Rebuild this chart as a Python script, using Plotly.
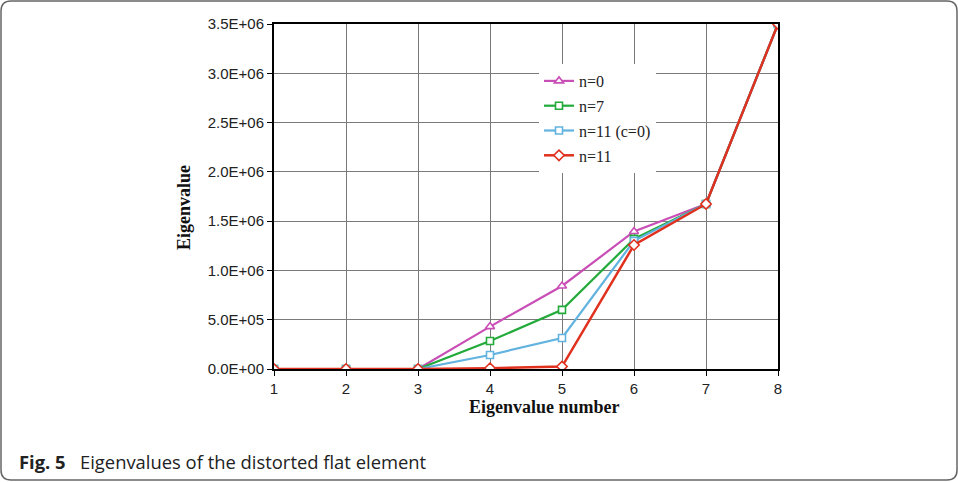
import plotly.graph_objects as go

x_vals = [1, 2, 3, 4, 5, 6, 7, 8]
n0 = [0, 0, 0, 0.43e6, 0.842e6, 1.395e6, 1.674e6, 3.5e6]
n7 = [0, 0, 0, 0.284e6, 0.60e6, 1.32e6, 1.674e6, 3.5e6]
n11c0 = [0, 0, 0, 0.142e6, 0.315e6, 1.30e6, 1.674e6, 3.5e6]
n11 = [0, 0, 0, 0.008e6, 0.025e6, 1.258e6, 1.674e6, 3.5e6]
names = ["n=0", "n=7", "n=11 (c=0)", "n=11"]
y_ticks = [0, 0.5e6, 1.0e6, 1.5e6, 2.0e6, 2.5e6, 3.0e6, 3.5e6]
y_tick_text = ["0.0E+00", "5.0E+05", "1.0E+06", "1.5E+06", "2.0E+06", "2.5E+06", "3.0E+06", "3.5E+06"]

colors = ["#C94FB6", "#22AA3A", "#62B3DF", "#E0301E"]
symbols = ["triangle-up", "square", "square", "diamond"]
sizes = [8, 7, 7, 8]
series = [n0, n7, n11c0, n11]

W, H = 958, 482
L, R, T, B = 274, 778, 24, 369
pw, ph = R - L, B - T

def px(xp):
    return (xp - L) / pw

def py(yp):
    return (B - yp) / ph

fig = go.Figure()
for i, (s, nm) in enumerate(zip(series, names)):
    fig.add_trace(go.Scatter(
        x=x_vals, y=s, name=nm, mode="lines+markers",
        legendgroup=nm,
        line=dict(color=colors[i], width=2.5 if i == 3 else 2.2),
        marker=dict(symbol=symbols[i], size=sizes[i], color="white",
                    line=dict(color=colors[i], width=1.6)),
    ))

fig.update_layout(
    width=W, height=H,
    margin=dict(l=L, r=W - R, t=T, b=H - B),
    paper_bgcolor="white", plot_bgcolor="white",
    showlegend=True,
    legend=dict(x=px(539), y=py(64), xanchor="left", yanchor="top",
                bgcolor="white", borderwidth=0,
                font=dict(family="Liberation Serif", size=16, color="#222"),
                tracegroupgap=1, itemwidth=30),
    font=dict(family="Liberation Sans", size=15, color="#222"),
)
fig.update_xaxes(
    range=[1, 8], tickvals=x_vals, ticktext=[str(v) for v in x_vals],
    showgrid=True, gridcolor="#7a7a7a", gridwidth=1,
    showline=True, linecolor="black", linewidth=2, mirror=True,
    ticks="outside", ticklen=5, tickcolor="black", zeroline=False,
    tickfont=dict(family="Liberation Sans", size=15, color="#222"),
)
fig.update_yaxes(
    range=[0, 3.5e6], tickvals=y_ticks, ticktext=y_tick_text,
    showgrid=True, gridcolor="#7a7a7a", gridwidth=1,
    showline=True, linecolor="black", linewidth=2, mirror=True,
    ticks="outside", ticklen=5, tickcolor="black", zeroline=False,
    tickfont=dict(family="Liberation Sans", size=15, color="#222"),
)

annotations = [
    dict(text="<b>Eigenvalue number</b>", x=px(544), y=py(407), xref="paper", yref="paper",
         showarrow=False, xanchor="center", yanchor="middle",
         font=dict(family="Liberation Serif", size=18, color="#111")),
    dict(text="<b>Eigenvalue</b>", x=px(184), y=py(208), xref="paper", yref="paper",
         showarrow=False, textangle=-90, xanchor="center", yanchor="middle",
         font=dict(family="Liberation Serif", size=18, color="#111")),
    dict(text="<b>Fig. 5</b>   Eigenvalues of the distorted flat element",
         x=px(17), y=py(461), xref="paper", yref="paper",
         showarrow=False, xanchor="left", yanchor="middle",
         font=dict(family="Open Sans", size=18.4, color="#222")),
]
fig.update_layout(annotations=annotations)

# Rounded frame around the figure
x0, x1, y0, y1, r = 1, 957, 1, 480, 10
def P(xp, yp):
    return f"{px(xp)},{py(yp)}"
path = (f"M {P(x0 + r, y0)} L {P(x1 - r, y0)} Q {P(x1, y0)} {P(x1, y0 + r)} "
        f"L {P(x1, y1 - r)} Q {P(x1, y1)} {P(x1 - r, y1)} "
        f"L {P(x0 + r, y1)} Q {P(x0, y1)} {P(x0, y1 - r)} "
        f"L {P(x0, y0 + r)} Q {P(x0, y0)} {P(x0 + r, y0)} Z")
fig.add_shape(type="path", path=path, xref="paper", yref="paper",
              line=dict(color="#666", width=1.5), layer="above")

fig.write_html("out.html", config={"displayModeBar": False},
               post_script="document.body.style.margin='0';")
